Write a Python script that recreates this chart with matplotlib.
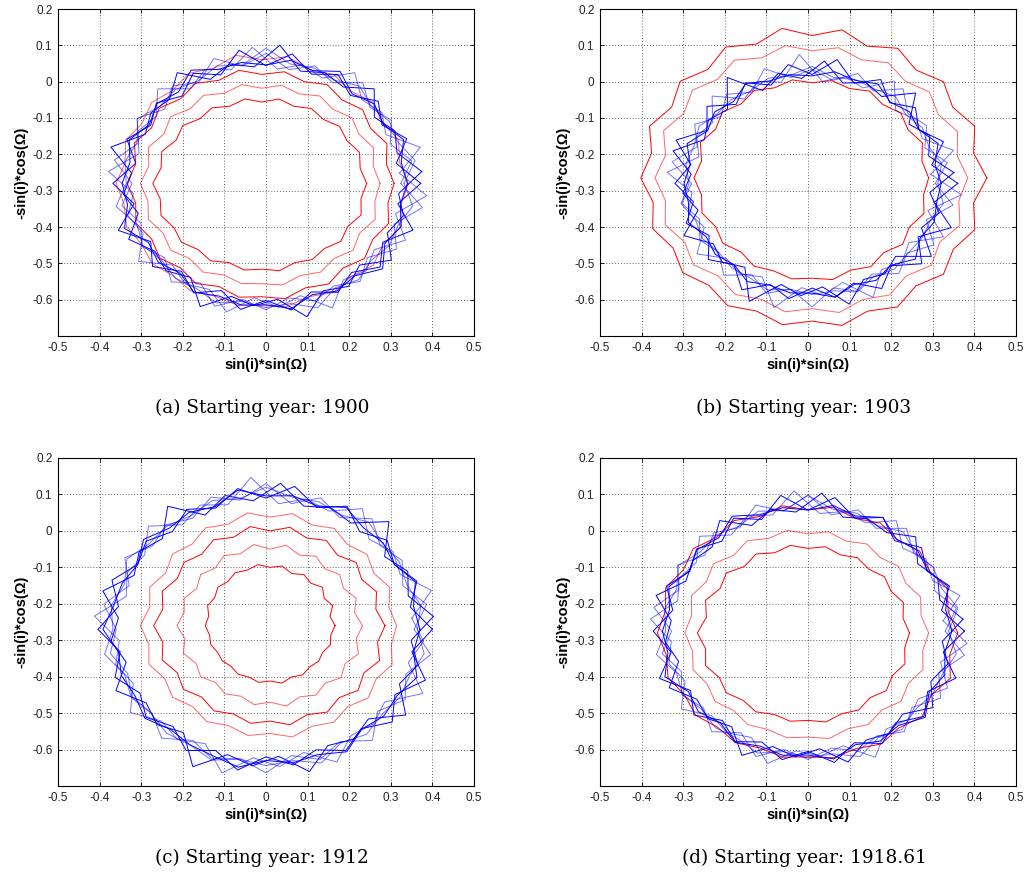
import numpy as np
import matplotlib.pyplot as plt

plt.rcParams['axes.unicode_minus'] = False

# angles (degrees) at which the loop radii were read, counter-clockwise from +x
angles_deg = [0, 10, 20, 30, 40, 50, 60, 70, 80, 90, 100, 110, 120, 130, 140, 150, 160, 170,
              180, 190, 200, 210, 220, 230, 240, 250, 260, 270, 280, 290, 300, 310, 320, 330, 340, 350]
# second set of reading angles, used by the extra blue strands
angles_mid_deg = [5, 15, 25, 35, 45, 55, 65, 75, 85, 95, 105, 115, 125, 135, 145, 155, 165, 175,
                  185, 195, 205, 215, 225, 235, 245, 255, 265, 275, 285, 295, 305, 315, 325, 335, 345, 355]

captions = ["(a) Starting year: 1900", "(b) Starting year: 1903",
            "(c) Starting year: 1912", "(d) Starting year: 1918.61"]

# loop centres (x, y)
red_centers = [(-0.01, -0.28), (0.01, -0.265), (0.01, -0.26), (0.0, -0.28)]
blue_centers = [(0.0, -0.28), (0.01, -0.28), (0.0, -0.27), (0.0, -0.275)]

# radii in thousandths, one list per loop
a_red = [
    [252, 240, 250, 236, 244, 230, 238, 226, 236, 224, 236, 226, 240, 232, 248, 238, 256, 246,
     262, 248, 258, 244, 252, 238, 246, 232, 242, 236, 244, 232, 242, 234, 248, 238, 254, 242],
    [284, 272, 286, 270, 282, 266, 278, 262, 274, 262, 276, 264, 280, 268, 286, 272, 290, 276,
     292, 278, 290, 274, 286, 270, 282, 268, 280, 276, 284, 270, 282, 270, 286, 272, 290, 276],
    [318, 304, 320, 302, 316, 300, 314, 298, 312, 300, 316, 302, 318, 304, 322, 306, 326, 308,
     324, 308, 322, 306, 320, 304, 318, 302, 318, 312, 322, 306, 320, 304, 322, 308, 324, 308],
    [352, 336, 350, 334, 348, 332, 346, 334, 354, 340, 358, 338, 350, 334, 346, 332, 348, 334,
     350, 336, 346, 334, 344, 332, 342, 330, 340, 336, 344, 332, 346, 334, 350, 336, 354, 340],
]
a_blue = [
    [372, 318, 360, 322, 352, 316, 346, 320, 362, 324, 372, 318, 350, 314, 344, 320, 356, 318,
     368, 322, 378, 320, 356, 316, 348, 314, 352, 322, 354, 318, 346, 320, 358, 324, 376, 322],
    [324, 356, 318, 348, 326, 362, 320, 344, 318, 358, 328, 366, 322, 350, 318, 358, 326, 370,
     322, 352, 320, 346, 318, 354, 316, 360, 324, 348, 320, 344, 326, 352, 318, 362, 328, 382],
    [340, 330, 352, 326, 340, 322, 356, 330, 344, 326, 338, 334, 360, 328, 342, 324, 350, 332,
     346, 338, 362, 326, 338, 322, 346, 330, 340, 334, 350, 326, 342, 332, 366, 330, 346, 328],
    [332, 364, 336, 342, 330, 350, 328, 338, 334, 372, 330, 344, 326, 338, 332, 356, 330, 344,
     336, 366, 330, 342, 328, 340, 334, 350, 330, 342, 336, 364, 332, 346, 330, 342, 338, 358],
]
a_blue_mid = [
    [322, 384, 318, 340, 326, 372, 320, 338, 316, 376, 324, 346, 318, 368, 322, 340, 316, 380,
     320, 344, 326, 374, 318, 338, 322, 366, 316, 342, 320, 378, 324, 340, 318, 370, 322, 388],
    [376, 326, 342, 318, 368, 324, 336, 320, 382, 322, 340, 316, 372, 328, 338, 320, 386, 324,
     344, 318, 364, 326, 340, 316, 374, 322, 338, 320, 380, 326, 346, 318, 368, 322, 342, 320],
]

b_red = [
    [280, 268, 282, 266, 278, 264, 276, 262, 272, 262, 274, 264, 278, 266, 282, 268, 286, 270,
     284, 270, 282, 268, 280, 266, 280, 272, 282, 276, 284, 270, 282, 268, 284, 270, 286, 272],
    [374, 354, 372, 350, 368, 348, 366, 346, 364, 350, 370, 352, 374, 354, 376, 356, 380, 358,
     378, 358, 376, 354, 372, 352, 370, 356, 374, 360, 376, 356, 372, 352, 374, 354, 378, 358],
    [420, 394, 416, 390, 412, 388, 412, 386, 414, 392, 418, 392, 416, 390, 414, 390, 416, 392,
     412, 388, 408, 386, 406, 386, 406, 390, 410, 394, 412, 390, 410, 388, 412, 392, 416, 394],
]
b_blue = [
    [350, 292, 336, 296, 324, 290, 330, 294, 346, 300, 332, 288, 320, 284, 330, 292, 348, 296,
     330, 290, 322, 286, 326, 292, 338, 296, 322, 288, 318, 292, 334, 296, 344, 294, 356, 298],
    [296, 330, 288, 318, 300, 340, 294, 322, 288, 314, 296, 336, 290, 320, 286, 326, 294, 342,
     290, 318, 288, 312, 294, 330, 290, 322, 296, 340, 292, 316, 288, 324, 298, 338, 292, 344],
    [310, 300, 322, 296, 306, 292, 316, 302, 312, 296, 304, 300, 318, 294, 306, 290, 320, 298,
     308, 302, 316, 294, 304, 292, 312, 298, 306, 302, 318, 296, 308, 294, 324, 300, 312, 304],
    [302, 316, 298, 306, 294, 312, 300, 304, 296, 322, 302, 308, 294, 302, 298, 314, 302, 308,
     296, 320, 298, 304, 294, 302, 300, 312, 296, 306, 300, 318, 296, 308, 300, 304, 302, 320],
]
b_blue_mid = [
    [286, 352, 292, 306, 284, 344, 290, 304, 282, 356, 288, 310, 284, 340, 292, 306, 282, 350,
     290, 308, 286, 338, 292, 304, 284, 354, 288, 310, 282, 346, 290, 306, 284, 348, 288, 360],
    [342, 290, 312, 284, 352, 292, 306, 286, 338, 290, 314, 282, 356, 288, 304, 286, 346, 292,
     312, 284, 340, 290, 306, 282, 358, 288, 310, 286, 344, 292, 304, 284, 350, 290, 316, 284],
]

c_red = [
    [156, 146, 160, 150, 164, 152, 162, 152, 166, 160, 170, 162, 168, 158, 164, 154, 160, 150,
     156, 148, 152, 146, 150, 146, 154, 150, 158, 152, 160, 150, 156, 148, 152, 146, 154, 148],
    [222, 206, 220, 204, 218, 204, 220, 206, 224, 210, 226, 210, 222, 206, 218, 204, 220, 210,
     224, 208, 222, 206, 218, 204, 216, 206, 220, 210, 224, 208, 220, 206, 222, 208, 226, 210],
    [276, 258, 272, 254, 270, 252, 270, 256, 274, 260, 276, 258, 272, 256, 270, 258, 276, 262,
     280, 262, 276, 258, 272, 256, 270, 258, 272, 262, 276, 260, 274, 258, 276, 260, 280, 262],
    [304, 290, 306, 288, 304, 290, 308, 294, 312, 298, 314, 296, 310, 292, 306, 290, 308, 294,
     312, 296, 310, 292, 306, 290, 304, 292, 306, 296, 310, 294, 306, 290, 308, 294, 312, 296],
]
c_blue = [
    [400, 352, 386, 356, 380, 350, 390, 356, 398, 360, 392, 354, 380, 350, 376, 356, 394, 360,
     404, 356, 386, 350, 376, 348, 384, 354, 392, 350, 378, 352, 384, 356, 396, 358, 408, 356],
    [356, 392, 350, 378, 358, 396, 354, 384, 350, 400, 360, 386, 352, 374, 356, 392, 350, 396,
     360, 380, 354, 372, 358, 390, 352, 378, 360, 394, 352, 380, 356, 398, 350, 386, 358, 402],
    [370, 360, 382, 356, 368, 364, 386, 360, 372, 366, 388, 358, 370, 362, 384, 356, 368, 372,
     392, 360, 370, 364, 380, 358, 366, 370, 384, 360, 372, 366, 388, 358, 370, 364, 386, 360],
    [364, 378, 360, 370, 366, 384, 362, 372, 368, 390, 364, 376, 360, 370, 366, 386, 362, 378,
     368, 394, 362, 374, 360, 372, 366, 382, 362, 374, 366, 390, 360, 376, 364, 372, 368, 386],
]
c_blue_mid = [
    [352, 412, 356, 372, 350, 404, 358, 370, 346, 418, 354, 376, 350, 400, 356, 368, 348, 414,
     354, 374, 352, 398, 356, 370, 346, 408, 354, 378, 350, 402, 356, 366, 348, 416, 354, 380],
    [404, 354, 376, 348, 418, 356, 368, 350, 402, 354, 380, 346, 412, 352, 372, 350, 406, 356,
     374, 348, 398, 352, 370, 346, 416, 356, 376, 350, 404, 352, 368, 348, 410, 354, 378, 350],
]

d_red = [
    [244, 232, 244, 230, 240, 228, 238, 228, 240, 232, 244, 234, 250, 238, 256, 244, 262, 248,
     266, 250, 262, 246, 256, 242, 250, 238, 246, 240, 248, 236, 244, 232, 246, 234, 248, 236],
    [290, 276, 288, 272, 284, 270, 282, 268, 282, 272, 286, 276, 292, 278, 296, 282, 298, 284,
     296, 282, 294, 280, 292, 278, 290, 282, 292, 286, 294, 280, 290, 276, 292, 278, 294, 280],
    [360, 342, 356, 338, 350, 334, 348, 334, 350, 338, 354, 340, 356, 342, 360, 346, 364, 348,
     362, 346, 358, 342, 352, 338, 348, 336, 346, 340, 348, 338, 352, 340, 358, 342, 364, 346],
]
d_blue = [
    [376, 326, 362, 330, 356, 324, 360, 330, 372, 332, 378, 326, 358, 322, 350, 328, 362, 330,
     372, 334, 380, 326, 358, 320, 350, 324, 358, 330, 366, 326, 356, 328, 364, 332, 378, 330],
    [330, 362, 324, 350, 332, 368, 326, 354, 324, 374, 334, 368, 328, 352, 324, 362, 330, 376,
     328, 356, 324, 350, 328, 360, 322, 366, 330, 352, 326, 350, 332, 360, 326, 368, 334, 382],
    [346, 336, 358, 332, 344, 330, 360, 336, 350, 332, 344, 340, 364, 334, 348, 330, 356, 338,
     350, 342, 366, 332, 344, 328, 352, 336, 346, 340, 356, 332, 348, 338, 368, 336, 350, 334],
    [338, 366, 342, 348, 336, 356, 334, 344, 340, 372, 336, 350, 332, 344, 338, 360, 336, 350,
     342, 370, 336, 348, 334, 346, 340, 356, 336, 348, 342, 366, 338, 352, 336, 346, 344, 362],
]
d_blue_mid = [
    [326, 378, 330, 346, 322, 370, 328, 340, 324, 386, 330, 348, 322, 368, 328, 342, 324, 380,
     330, 346, 326, 372, 328, 340, 322, 376, 330, 344, 326, 382, 328, 342, 324, 370, 330, 384],
    [374, 328, 344, 322, 366, 330, 340, 324, 380, 328, 346, 320, 370, 326, 338, 324, 378, 330,
     344, 322, 368, 326, 340, 320, 376, 328, 346, 324, 372, 330, 342, 322, 366, 326, 348, 324],
]

red_loops = [a_red, b_red, c_red, d_red]
blue_loops = [a_blue, b_blue, c_blue, d_blue]
blue_mid_loops = [a_blue_mid, b_blue_mid, c_blue_mid, d_blue_mid]

xticks = [-0.5, -0.4, -0.3, -0.2, -0.1, 0, 0.1, 0.2, 0.3, 0.4, 0.5]
yticks = [-0.6, -0.5, -0.4, -0.3, -0.2, -0.1, 0, 0.1, 0.2]

W, H = 1026, 874
fig = plt.figure(figsize=(W / 100, H / 100), dpi=100)

# axes boxes in pixels: left, top, right, bottom
boxes = [(58, 9, 474, 336), (600, 9, 1016, 336),
         (58, 458, 474, 786), (600, 458, 1016, 786)]


def loop_xy(center, angles, radii):
    th = np.radians(angles + [angles[0]])
    r = np.array(radii + [radii[0]]) / 1000.0
    return center[0] + r * np.cos(th), center[1] + r * np.sin(th)


for k, (l, t, r, b) in enumerate(boxes):
    ax = fig.add_axes([l / W, 1 - b / H, (r - l) / W, (b - t) / H])
    for i, radii in enumerate(red_loops[k]):
        x, y = loop_xy(red_centers[k], angles_deg, radii)
        ax.plot(x, y, color='#ff0000', lw=0.7, alpha=1.0 if i % 2 == 0 else 0.6)
    for i, radii in enumerate(blue_loops[k]):
        x, y = loop_xy(blue_centers[k], angles_deg, radii)
        ax.plot(x, y, color='#0000ff', lw=0.7, alpha=1.0 if i % 2 == 0 else 0.55)
    for i, radii in enumerate(blue_mid_loops[k]):
        x, y = loop_xy(blue_centers[k], angles_mid_deg, radii)
        ax.plot(x, y, color='#0000ff', lw=0.7, alpha=0.55 if i % 2 == 0 else 1.0)

    ax.set_xlim(-0.5, 0.5)
    ax.set_ylim(-0.7, 0.2)
    ax.set_xticks(xticks)
    ax.set_yticks(yticks)
    ax.set_xticklabels([f"{v:g}" for v in xticks])
    ax.set_yticklabels([f"{v:g}" for v in yticks])
    ax.tick_params(direction='in', length=3, width=0.6, top=True, right=True,
                   labelsize=8.5, labelcolor='#222222', pad=4)
    for lab in ax.get_xticklabels() + ax.get_yticklabels():
        lab.set_family('Liberation Sans')
    ax.grid(True, color='#333333', linestyle=(0, (1, 2.5)), linewidth=0.6)
    for s in ax.spines.values():
        s.set_linewidth(0.8)
    ax.set_xlabel('sin(i)*sin(Ω)', fontsize=10.5, fontweight='bold',
                  family='Liberation Sans', labelpad=3)
    ax.set_ylabel('-sin(i)*cos(Ω)', fontsize=10.5, fontweight='bold',
                  family='Liberation Sans', labelpad=3)

    cx = (l + r) / 2 - 4
    cy = b + 72
    fig.text(cx / W, 1 - cy / H, captions[k], ha='center', va='center',
             fontsize=13.3, family='DejaVu Serif')

fig.savefig('out.png', dpi=100)
